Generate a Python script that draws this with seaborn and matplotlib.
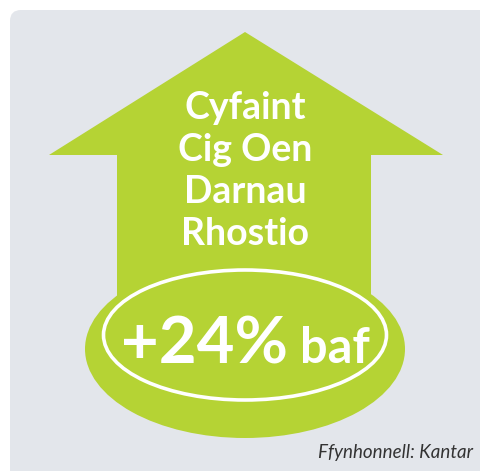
import matplotlib
matplotlib.use("Agg")
import matplotlib.pyplot as plt
import seaborn as sns
from matplotlib.patches import Polygon, Ellipse, FancyBboxPatch

# ---- data ----
title_lines = ["Cyfaint", "Cig Oen", "Darnau", "Rhostio"]
change_pct = 24
change_word = "baf"
source_text = "Ffynhonnell: Kantar"

GREEN = "#b5d334"
PANEL = "#e3e6eb"

sns.set_theme(style="white")
plt.rcParams["font.family"] = ["Lato", "DejaVu Sans"]

W, H = 481, 471
fig = plt.figure(figsize=(W / 100, H / 100), dpi=100)
ax = fig.add_axes([0, 0, 1, 1])
ax.set_xlim(0, W)
ax.set_ylim(H, 0)
ax.axis("off")
fig.patch.set_facecolor("white")

# panel
ax.add_patch(FancyBboxPatch((10, 10), W + 20, H, boxstyle="round,pad=0,rounding_size=11",
                            facecolor=PANEL, edgecolor="none"))

# arrow
arrow = [(245, 32), (443, 155), (371, 155), (371, 300), (117, 300), (117, 155), (49, 155)]
ax.add_patch(Polygon(arrow, closed=True, facecolor=GREEN, edgecolor="none"))

# outer ellipse
ax.add_patch(Ellipse((245, 349), 320, 178, facecolor=GREEN, edgecolor="none"))
# white ring
ax.add_patch(Ellipse((245, 335), 283, 130, facecolor="none", edgecolor="white", lw=2.6))

# title lines
ys = [108, 150, 192, 234]
for t, y in zip(title_lines, ys):
    ax.text(245, y, t, ha="center", va="center", color="white", fontsize=27,
            fontweight="bold")

ax.text(288, 363, f"+{change_pct}%", ha="right", va="baseline", color="white",
        fontsize=47, fontweight="bold")
ax.text(300, 363, change_word, ha="left", va="baseline", color="white",
        fontsize=35, fontweight="bold")

ax.text(473, 458, source_text, ha="right", va="baseline", color="#333333",
        fontsize=13.5, style="italic")

fig.savefig("out.png", dpi=100)
